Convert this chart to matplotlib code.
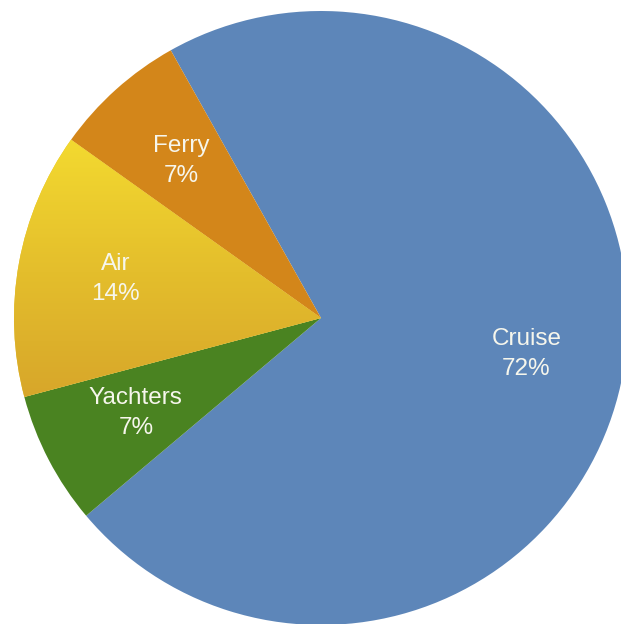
import numpy as np
import matplotlib.pyplot as plt
from matplotlib.colors import LinearSegmentedColormap

plt.rcParams['font.family'] = ['Liberation Sans', 'DejaVu Sans']

# travel mode shares
categories = ['Cruise', 'Yachters', 'Air', 'Ferry']
shares = [72, 7, 14, 7]
colors = ['#5D86B9', '#4A8321', '#E9C62C', '#D3861A']

W, H = 621, 624
cx, cy, R = 321, 318, 307

fig = plt.figure(figsize=(W / 100, H / 100), dpi=100)
ax = fig.add_axes([0, 0, 1, 1])

wedges, texts = ax.pie(shares, colors=colors, startangle=119.3,
                       counterclock=False, radius=1,
                       wedgeprops=dict(linewidth=0, antialiased=True))

# gradient fill on the Air slice
air = wedges[2]
grad = LinearSegmentedColormap.from_list('air', ['#D6A42A', '#E4BE2C', '#F4DB30'])
img = ax.imshow(np.linspace(0, 1, 256).reshape(-1, 1), cmap=grad,
                extent=(-1.05, 0.05, -0.30, 0.60), origin='lower',
                aspect='auto', zorder=air.get_zorder() + 0.1)
img.set_clip_path(air)

# labels inside each slice
theta = 119.3
for name, val in zip(categories, shares):
    span = val / sum(shares) * 360
    mid = np.deg2rad(theta - span / 2)
    theta -= span
    ax.text(0.68 * np.cos(mid), 0.68 * np.sin(mid) + 0.005, f'{name}\n{val}%',
            ha='center', va='center', fontsize=17.5, color='#F6F6EC',
            linespacing=1.5, zorder=5)

ax.set_xlim(-cx / R, (W - cx) / R)
ax.set_ylim(-(H - cy) / R, cy / R)
ax.set_aspect('equal')
ax.axis('off')

fig.savefig('out.png', dpi=100)
